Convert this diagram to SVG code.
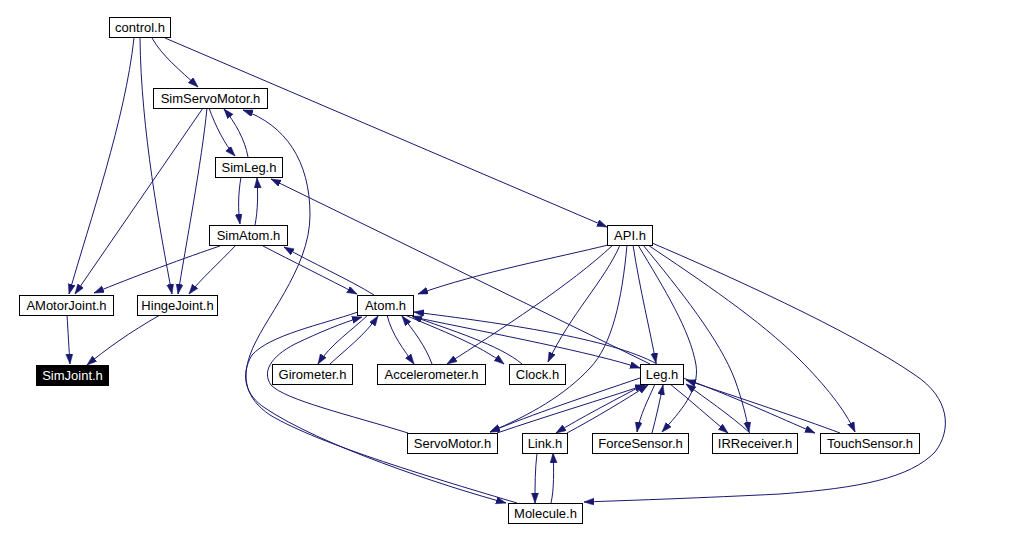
<svg xmlns="http://www.w3.org/2000/svg" width="1009" height="540" viewBox="0 0 1009 540">
<style>
.n rect{fill:#fff;stroke:#000;stroke-width:1}
.n text{font-family:"Liberation Sans",Arial,sans-serif;font-size:13px;text-anchor:middle;fill:#000}
.e path{fill:none;stroke:#191970;stroke-width:1;marker-end:url(#ah)}
#SimJoint rect{fill:#000}
#SimJoint text{fill:#fff}
</style>
<defs>
<marker id="ah" markerUnits="userSpaceOnUse" markerWidth="11" markerHeight="8" refX="10" refY="3.5" orient="auto">
<path d="M0,0 L10,3.5 L0,7 z" fill="#191970" stroke="#191970" stroke-width="0.5"/>
</marker>
</defs>
<rect width="1009" height="540" fill="#fff"/>
<g class="e" id="connectors">
<path d="M152,38 C162,56 180,70 198,87"/>
<path d="M165,38 L607,227"/>
<path d="M134,38 C125,120 90,220 69,294"/>
<path d="M140,38 C141,130 160,230 172,294"/>
<path d="M203,108 L75,294"/>
<path d="M207,108 C202,160 185,250 178,294"/>
<path d="M209,108 C215,125 225,145 235,156"/>
<path d="M248,157 C245,140 235,122 224,109"/>
<path d="M241,177 C238,195 238,210 240,224"/>
<path d="M255,225 C258,210 258,192 257,178"/>
<path d="M517,503 C440,480 320,445 270,415 C245,398 242,378 250,355 C262,320 310,270 310,215 C310,160 285,125 243,110"/>
<path d="M650,364 L271,179"/>
<path d="M220,246 C190,256 130,278 94,293"/>
<path d="M236,245 C220,262 200,280 189,294"/>
<path d="M263,246 C290,260 330,280 357,294"/>
<path d="M374,295 C350,280 310,262 284,247"/>
<path d="M67,315 C68,330 69,350 70,364"/>
<path d="M160,315 C130,332 105,350 87,365"/>
<path d="M358,312 C320,325 270,335 252,355 C240,375 245,395 265,408 C320,445 440,485 506,503"/>
<path d="M408,433 C350,415 285,400 271,385 C262,372 270,357 295,344 C320,332 342,323 362,317"/>
<path d="M368,315 C352,330 330,345 318,364"/>
<path d="M330,364 C345,350 365,335 378,316"/>
<path d="M387,315 C392,335 404,350 414,364"/>
<path d="M432,364 C425,345 413,330 402,316"/>
<path d="M405,315 C440,330 480,345 504,364"/>
<path d="M522,364 C500,345 450,330 412,316"/>
<path d="M413,317 C500,335 590,352 640,368"/>
<path d="M657,364 C610,338 500,323 414,312"/>
<path d="M608,245 C560,257 480,272 418,294"/>
<path d="M613,245 C570,285 500,330 447,364"/>
<path d="M620,245 C605,280 570,315 548,362"/>
<path d="M627,245 C622,300 612,345 590,368 C565,395 530,415 490,432"/>
<path d="M633,245 C640,290 650,330 656,363"/>
<path d="M638,245 C665,290 690,330 696,365 C700,390 680,412 662,432"/>
<path d="M643,245 C680,290 720,340 735,380 C742,400 746,415 749,432"/>
<path d="M648,245 C700,280 760,320 800,360 C825,385 845,410 855,432"/>
<path d="M652,243 C720,272 850,330 915,375 C950,398 952,430 935,452 C910,478 860,488 780,494 C700,498 640,500 584,502"/>
<path d="M640,378 C590,395 530,415 490,432"/>
<path d="M497,433 C550,415 600,400 645,385"/>
<path d="M645,384 C615,400 580,418 556,433"/>
<path d="M567,433 C595,418 625,400 648,385"/>
<path d="M655,384 C648,400 640,415 637,432"/>
<path d="M652,433 C656,418 660,400 663,385"/>
<path d="M670,384 C690,400 710,418 728,433"/>
<path d="M750,433 C730,415 705,398 686,384"/>
<path d="M683,378 C730,395 780,418 815,433"/>
<path d="M840,433 C800,418 740,398 686,380"/>
<path d="M537,453 C535,470 535,485 535,503"/>
<path d="M551,503 C554,490 554,470 553,453"/>
</g>
<g class="n" id="control"><rect x="109.5" y="17.5" width="61" height="20"/><text x="140" y="32">control.h</text></g>
<g class="n" id="SimServoMotor"><rect x="153.5" y="88.5" width="114" height="20"/><text x="210.5" y="103">SimServoMotor.h</text></g>
<g class="n" id="SimLeg"><rect x="215.5" y="157.5" width="67" height="20"/><text x="249" y="172">SimLeg.h</text></g>
<g class="n" id="SimAtom"><rect x="209.5" y="225.5" width="78" height="20"/><text x="248.5" y="240">SimAtom.h</text></g>
<g class="n" id="AMotorJoint"><rect x="19.5" y="295.5" width="94" height="20"/><text x="66.5" y="310">AMotorJoint.h</text></g>
<g class="n" id="HingeJoint"><rect x="137.5" y="295.5" width="80" height="20"/><text x="177.5" y="310">HingeJoint.h</text></g>
<g class="n" id="SimJoint"><rect x="36.5" y="365.5" width="72" height="20"/><text x="72.5" y="380">SimJoint.h</text></g>
<g class="n" id="API"><rect x="607.5" y="225.5" width="45" height="20"/><text x="630" y="240">API.h</text></g>
<g class="n" id="Atom"><rect x="357.5" y="295.5" width="56" height="20"/><text x="385.5" y="310">Atom.h</text></g>
<g class="n" id="Girometer"><rect x="272.5" y="364.5" width="80" height="20"/><text x="312.5" y="379">Girometer.h</text></g>
<g class="n" id="Accelerometer"><rect x="377.5" y="364.5" width="108" height="20"/><text x="431.5" y="379">Accelerometer.h</text></g>
<g class="n" id="Clock"><rect x="509.5" y="364.5" width="56" height="20"/><text x="537.5" y="379">Clock.h</text></g>
<g class="n" id="Leg"><rect x="640.5" y="364.5" width="43" height="20"/><text x="662" y="379">Leg.h</text></g>
<g class="n" id="ServoMotor"><rect x="407.5" y="433.5" width="90" height="20"/><text x="452.5" y="448">ServoMotor.h</text></g>
<g class="n" id="Link"><rect x="522.5" y="433.5" width="45" height="20"/><text x="545" y="448">Link.h</text></g>
<g class="n" id="ForceSensor"><rect x="592.5" y="433.5" width="96" height="20"/><text x="640.5" y="448">ForceSensor.h</text></g>
<g class="n" id="IRReceiver"><rect x="712.5" y="433.5" width="85" height="20"/><text x="755" y="448">IRReceiver.h</text></g>
<g class="n" id="TouchSensor"><rect x="820.5" y="433.5" width="99" height="20"/><text x="870" y="448">TouchSensor.h</text></g>
<g class="n" id="Molecule"><rect x="508.5" y="503.5" width="74" height="20"/><text x="545.5" y="518">Molecule.h</text></g>
</svg>
